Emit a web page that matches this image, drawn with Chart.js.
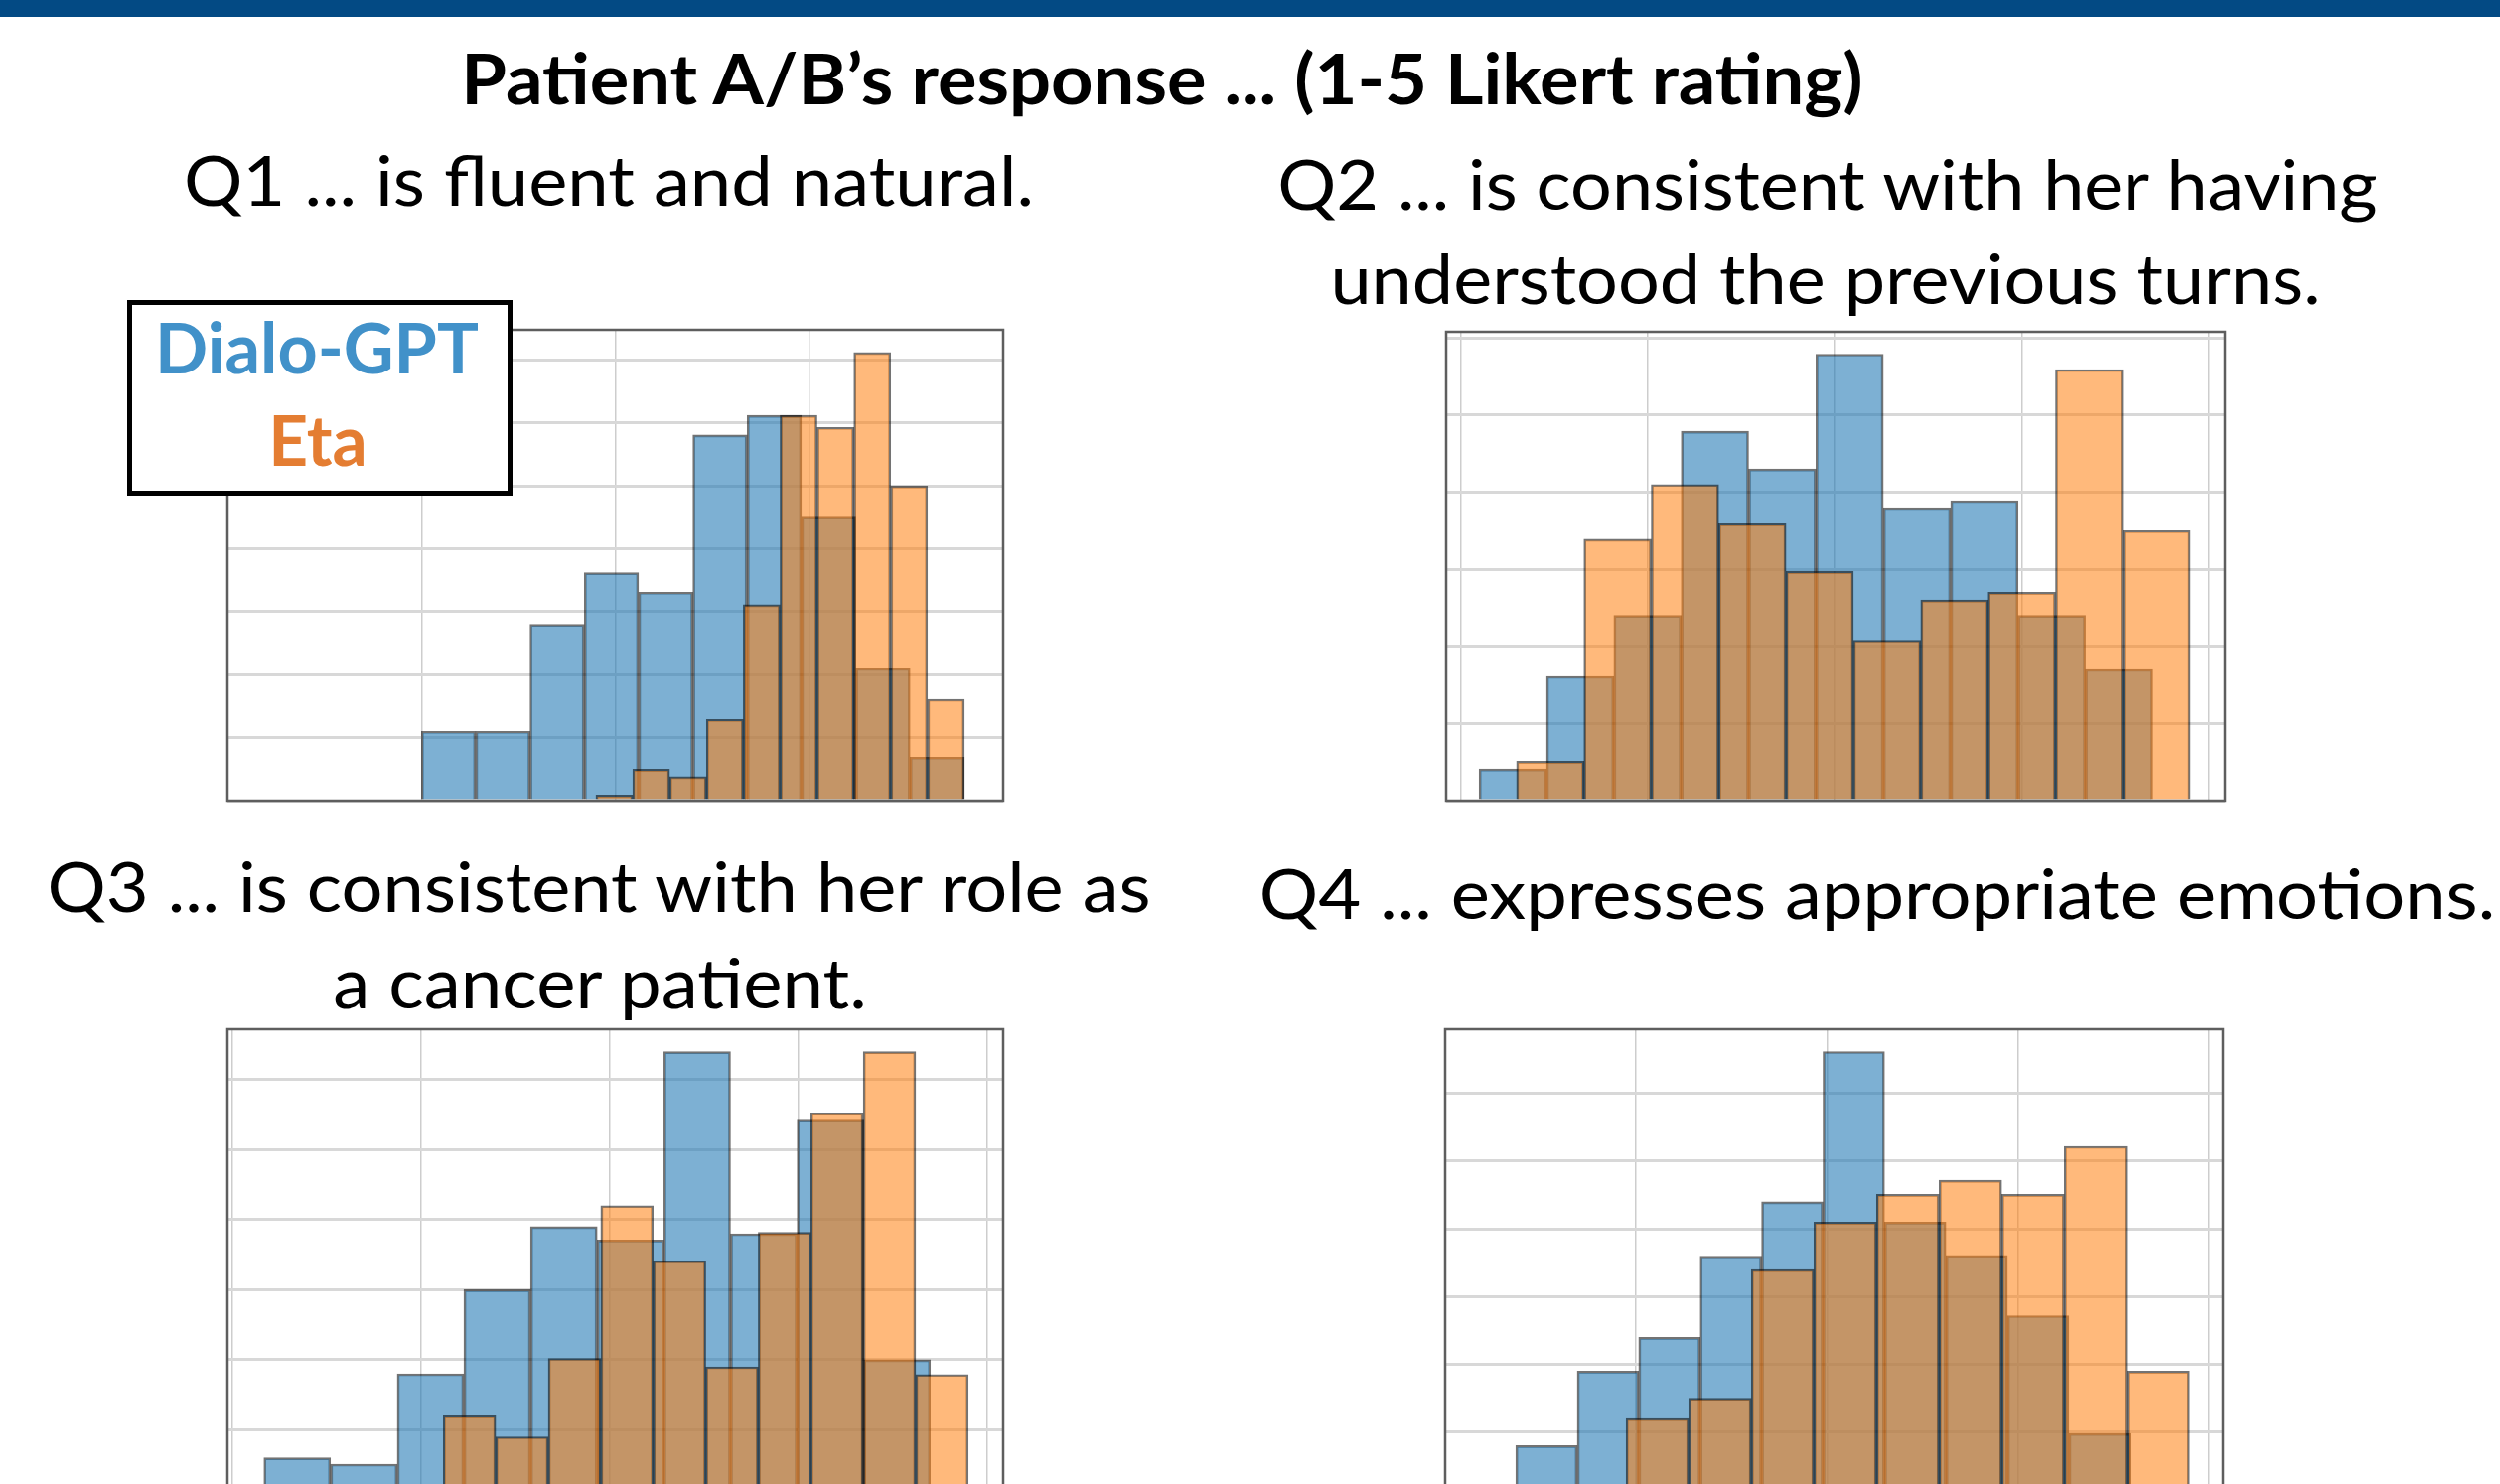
<!DOCTYPE html>
<html>
<head>
<meta charset="utf-8">
<script src="https://cdn.jsdelivr.net/npm/chart.js@4.4.1/dist/chart.umd.min.js"></script>
<style>
  html, body { margin: 0; padding: 0; background: #fff; }
  body { width: 2517px; height: 1494px; overflow: hidden; position: relative; font-family: Lato, "Open Sans", sans-serif; }
  .topbar { position: absolute; left: 0; top: 0; width: 2517px; height: 17px; background: #034a84; }
  .txt { position: absolute; white-space: nowrap; line-height: 1; color: #000; transform-origin: 50% 50%; }
  .big { font-size: 70px; }
  .bold { font-weight: 700; }
  .panel { position: absolute; }
  .legend-box { position: absolute; left: 128px; top: 302px; width: 378px; height: 187px; border: 5px solid #000; background: #fff; z-index: 5; }
</style>
</head>
<body>
<div class="topbar"></div>

<div class="txt big bold" data-cx="1170" data-base="105" data-w="1411">Patient A/B’s response ... (1-5 Likert rating)</div>
<div class="txt big" data-cx="613" data-base="207" data-w="856">Q1 ... is fluent and natural.</div>
<div class="txt big" data-cx="1840" data-base="211" data-w="1107">Q2 ... is consistent with her having</div>
<div class="txt big" data-cx="1838" data-base="306" data-w="997">understood the previous turns.</div>
<div class="txt big" data-cx="603" data-base="918" data-w="1111">Q3 ... is consistent with her role as</div>
<div class="txt big" data-cx="604" data-base="1015" data-w="538">a cancer patient.</div>
<div class="txt big" data-cx="1890" data-base="925" data-w="1244">Q4 ... expresses appropriate emotions.</div>

<div class="legend-box"></div>
<div class="txt big bold" style="color:#4191c9; z-index:6" data-cx="319" data-base="376" data-w="326">Dialo-GPT</div>
<div class="txt big bold" style="color:#e47d32; z-index:6" data-cx="320" data-base="469" data-w="99">Eta</div>

<div class="panel" id="p1"><canvas id="c1"></canvas></div>
<div class="panel" id="p2"><canvas id="c2"></canvas></div>
<div class="panel" id="p3"><canvas id="c3"></canvas></div>
<div class="panel" id="p4"><canvas id="c4"></canvas></div>

<script>
// series names
var seriesNames = ['Dialo-GPT', 'Eta'];

// Q1 ... is fluent and natural.  (10 bins each, range = [first edge, last edge])
var q1DialoCounts = [1.10, 1.10, 2.80, 3.62, 3.31, 5.81, 6.12, 4.52, 2.10, 0.69];
var q1DialoRange = [2.0, 4.8];
var q1EtaCounts = [0.09, 0.50, 0.38, 1.29, 3.11, 6.12, 5.93, 7.12, 5.00, 1.61];
var q1EtaRange = [2.9, 4.8];

// Q2 ... is consistent with her having understood the previous turns.
var q2DialoCounts = [0.41, 1.61, 2.40, 4.79, 4.30, 5.79, 3.80, 3.89, 2.40, 1.70];
var q2DialoRange = [1.1, 4.7];
var q2EtaCounts = [0.51, 3.39, 4.10, 3.59, 2.97, 2.08, 2.60, 2.70, 5.59, 3.50];
var q2EtaRange = [1.3, 4.9];

// Q3 ... is consistent with her role as a cancer patient.
var q3DialoCounts = [0.60, 0.51, 1.80, 3.00, 3.90, 3.71, 6.40, 3.80, 5.42, 2.00];
var q3DialoRange = [1.17, 4.7];
var q3EtaCounts = [1.20, 0.90, 2.02, 4.20, 3.41, 1.90, 3.82, 5.52, 6.40, 1.79];
var q3EtaRange = [2.12, 4.9];

// Q4 ... expresses appropriate emotions.
var q4DialoCounts = [0.80, 1.90, 2.40, 3.60, 4.40, 6.62, 4.10, 3.61, 2.72, 0.98];
var q4DialoRange = [1.37, 4.59];
var q4EtaCounts = [0.10, 1.20, 1.50, 3.40, 4.10, 4.51, 4.72, 4.51, 5.22, 1.90];
var q4EtaRange = [1.62, 4.9];

// axis limits per panel: [xMin, xMax, yMax]
var q1Limits = [1.0, 5.0, 7.48];
var q2Limits = [0.924, 5.085, 6.08];
var q3Limits = [0.977, 5.085, 6.72];
var q4Limits = [1.0, 5.075, 6.95];

// --text placement (baseline + width fit)
function placeTexts() {
  var els = document.querySelectorAll('.txt');
  els.forEach(function(el) {
    var fs = parseFloat(getComputedStyle(el).fontSize);
    var w = el.offsetWidth;
    var s = parseFloat(el.dataset.w) / w;
    el.style.left = el.dataset.cx + 'px';
    el.style.top = (parseFloat(el.dataset.base) - 0.887 * fs) + 'px';
    el.style.transform = 'translateX(-50%) scaleX(' + s + ')';
  });
}

function binPoints(counts, range) {
  var step = (range[1] - range[0]) / counts.length;
  return counts.map(function(c, i) {
    return {x: range[0] + step * (i + 0.5), y: c};
  });
}

var framePlugin = {
  id: 'frame',
  afterDatasetsDraw: function(chart) {
    var ctx = chart.ctx, a = chart.chartArea;
    ctx.save();
    ctx.strokeStyle = '#5e5e5e';
    ctx.lineWidth = 2.5;
    ctx.strokeRect(a.left, a.top, a.right - a.left, a.bottom - a.top);
    ctx.restore();
  }
};

function histPanel(boxId, canvasId, area, dCounts, dRange, eCounts, eRange, limits) {
  var pad = 4;
  var box = document.getElementById(boxId);
  box.style.left = (area[0] - pad) + 'px';
  box.style.top = (area[1] - pad) + 'px';
  box.style.width = (area[2] - area[0] + 2 * pad) + 'px';
  box.style.height = (area[3] - area[1] + 2 * pad) + 'px';

  // each series gets its own x scale so bar widths follow its own bin width
  var xHidden = {
    type: 'linear', display: false, min: limits[0], max: limits[1], offset: false,
    ticks: { stepSize: 1, includeBounds: false }, grid: { display: false, offset: false }
  };

  new Chart(document.getElementById(canvasId), {
    type: 'bar',
    data: {
      datasets: [
        {
          label: seriesNames[1],
          data: binPoints(eCounts, eRange),
          xAxisID: 'x2',
          backgroundColor: 'rgba(255, 127, 14, 0.55)',
          borderColor: 'rgba(0, 0, 0, 0.55)',
          borderWidth: 2,
          order: 0
        },
        {
          label: seriesNames[0],
          data: binPoints(dCounts, dRange),
          xAxisID: 'x',
          backgroundColor: 'rgba(31, 119, 180, 0.58)',
          borderColor: 'rgba(0, 0, 0, 0.55)',
          borderWidth: 2,
          order: 1
        }
      ]
    },
    options: {
      responsive: true,
      maintainAspectRatio: false,
      animation: false,
      layout: { padding: pad },
      datasets: {
        bar: { grouped: false, barPercentage: 1, categoryPercentage: 1, borderSkipped: 'start' }
      },
      plugins: {
        legend: { display: false },
        tooltip: { enabled: false }
      },
      scales: {
        x: {
          type: 'linear',
          min: limits[0],
          max: limits[1],
          offset: false,
          ticks: { display: false, stepSize: 1, includeBounds: false },
          grid: { offset: false, drawTicks: false, color: '#cdcdcd', lineWidth: 1.5 },
          border: { display: false }
        },
        x2: xHidden,
        y: {
          min: 0,
          max: limits[2],
          ticks: { display: false, stepSize: 1, includeBounds: false },
          grid: { drawTicks: false, color: '#d8d8d8', lineWidth: 3 },
          border: { display: false }
        }
      }
    },
    plugins: [framePlugin]
  });
}

histPanel('p1', 'c1', [229, 332, 1010, 806], q1DialoCounts, q1DialoRange, q1EtaCounts, q1EtaRange, q1Limits);
histPanel('p2', 'c2', [1456, 334, 2240, 806], q2DialoCounts, q2DialoRange, q2EtaCounts, q2EtaRange, q2Limits);
histPanel('p3', 'c3', [229, 1036, 1010, 1510], q3DialoCounts, q3DialoRange, q3EtaCounts, q3EtaRange, q3Limits);
histPanel('p4', 'c4', [1455, 1036, 2238, 1510], q4DialoCounts, q4DialoRange, q4EtaCounts, q4EtaRange, q4Limits);

placeTexts();
if (document.fonts && document.fonts.ready) {
  document.fonts.ready.then(placeTexts);
}
</script>
</body>
</html>
